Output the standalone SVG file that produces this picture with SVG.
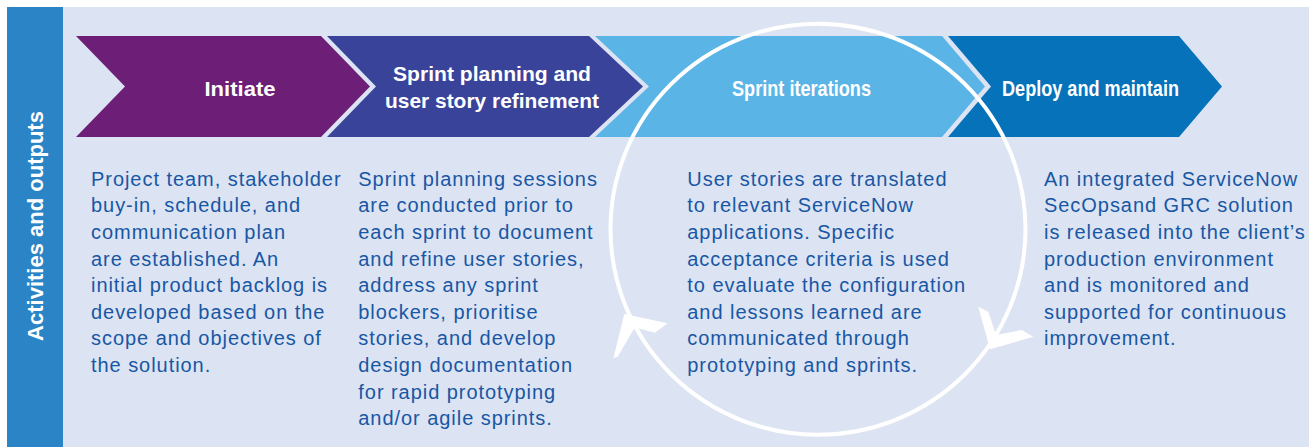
<svg xmlns="http://www.w3.org/2000/svg" width="1309" height="447" viewBox="0 0 1309 447">
  <style>
    .head { font-family: "Liberation Sans", Arial, sans-serif; font-weight: bold; font-size: 21px; fill: #ffffff; text-anchor: middle; }
    .head.tall { font-size: 22.5px; }
    .body { font-family: "Liberation Sans", Arial, sans-serif; font-size: 20px; letter-spacing: 0.95px; fill: #1857a4; }
    .side { font-family: "Liberation Sans", Arial, sans-serif; font-weight: bold; font-size: 22px; fill: #ffffff; text-anchor: middle; }
    .ring { fill: none; stroke: #ffffff; stroke-width: 4; }
    .head-mark { fill: #ffffff; }
  </style>

  <!-- backdrop -->
  <rect x="0" y="0" width="1309" height="447" fill="#ffffff"/>
  <rect x="63" y="7" width="1246" height="440" fill="#dce3f2"/>

  <!-- vertical side label -->
  <g id="side-label">
    <rect x="7" y="7" width="56" height="440" fill="#2a84c6"/>
    <text class="side" transform="translate(42.5,226) rotate(-90)">Activities and outputs</text>
  </g>

  <!-- phase 1 -->
  <g id="initiate">
    <polygon points="76,36 321,36 370,86.5 321,137 76,137 125,86.5" fill="#6d1f78"/>
    <text class="head" x="240" y="95.5" textLength="71" lengthAdjust="spacingAndGlyphs">Initiate</text>
    <text class="body" x="91" y="185.7">Project team, stakeholder</text>
    <text class="body" x="91" y="212.3">buy-in, schedule, and</text>
    <text class="body" x="91" y="238.9">communication plan</text>
    <text class="body" x="91" y="265.5">are established. An</text>
    <text class="body" x="91" y="292.1">initial product backlog is</text>
    <text class="body" x="91" y="318.7">developed based on the</text>
    <text class="body" x="91" y="345.3">scope and objectives of</text>
    <text class="body" x="91" y="371.9">the solution.</text>
  </g>

  <!-- phase 2 -->
  <g id="sprint-planning">
    <polygon points="327,36 589,36 643,86.5 589,137 327,137 376,86.5" fill="#39439a"/>
    <text class="head" x="492" y="81" textLength="198" lengthAdjust="spacingAndGlyphs">Sprint planning and</text>
    <text class="head" x="492" y="107.5" textLength="214" lengthAdjust="spacingAndGlyphs">user story refinement</text>
    <text class="body" x="358.3" y="185.7">Sprint planning sessions</text>
    <text class="body" x="358.3" y="212.3">are conducted prior to</text>
    <text class="body" x="358.3" y="238.9">each sprint to document</text>
    <text class="body" x="358.3" y="265.5">and refine user stories,</text>
    <text class="body" x="358.3" y="292.1">address any sprint</text>
    <text class="body" x="358.3" y="318.7">blockers, prioritise</text>
    <text class="body" x="358.3" y="345.3">stories, and develop</text>
    <text class="body" x="358.3" y="371.9">design documentation</text>
    <text class="body" x="358.3" y="398.5">for rapid prototyping</text>
    <text class="body" x="358.3" y="425.1">and/or agile sprints.</text>
  </g>

  <!-- phase 3 -->
  <g id="sprint-iterations">
    <polygon points="595,36 942,36 985,86.5 942,137 595,137 649,86.5" fill="#5bb4e6"/>
    <text class="head tall" x="801.5" y="95.5" textLength="139" lengthAdjust="spacingAndGlyphs">Sprint iterations</text>
    <text class="body" x="687.3" y="185.7">User stories are translated</text>
    <text class="body" x="687.3" y="212.3">to relevant ServiceNow</text>
    <text class="body" x="687.3" y="238.9">applications. Specific</text>
    <text class="body" x="687.3" y="265.5">acceptance criteria is used</text>
    <text class="body" x="687.3" y="292.1">to evaluate the configuration</text>
    <text class="body" x="687.3" y="318.7">and lessons learned are</text>
    <text class="body" x="687.3" y="345.3">communicated through</text>
    <text class="body" x="687.3" y="371.9">prototyping and sprints.</text>
  </g>

  <!-- phase 4 -->
  <g id="deploy-maintain">
    <polygon points="948,36 1179,36 1222,86.5 1179,137 948,137 991,86.5" fill="#0572ba"/>
    <text class="head tall" x="1090.5" y="95.5" textLength="177" lengthAdjust="spacingAndGlyphs">Deploy and maintain</text>
    <text class="body" x="1044" y="185.7">An integrated ServiceNow</text>
    <text class="body" x="1044" y="212.3">SecOpsand GRC solution</text>
    <text class="body" x="1044" y="238.9">is released into the client’s</text>
    <text class="body" x="1044" y="265.5">production environment</text>
    <text class="body" x="1044" y="292.1">and is monitored and</text>
    <text class="body" x="1044" y="318.7">supported for continuous</text>
    <text class="body" x="1044" y="345.3">improvement.</text>
  </g>

  <!-- iteration cycle: clockwise loop with two barbed heads -->
  <g id="connectors">
    <ellipse class="ring" cx="818" cy="229.2" rx="207.5" ry="205.5"/>
    <polygon class="head-mark" points="624.3,314 667.7,323.3 655,332.7 634.8,327.5 617.7,356.7 613.3,358.3"/>
    <polygon class="head-mark" points="990,349.3 978.3,306.7 988.3,311.7 996,335 1021.7,330 1033.3,336.7"/>
  </g>
</svg>
